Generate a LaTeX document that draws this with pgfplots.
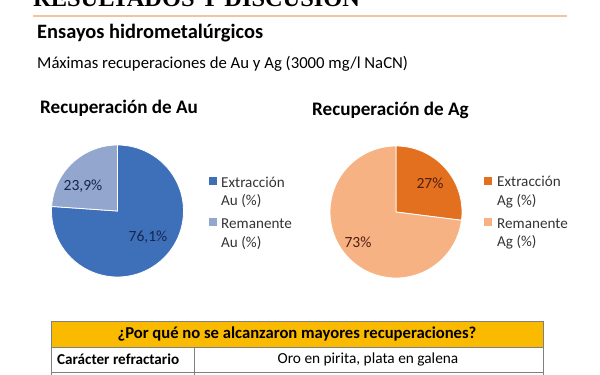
\documentclass[border=0pt]{standalone}
\usepackage{pgfplots}
\pgfplotsset{compat=1.18}
\usepackage{fontspec}
\setmainfont{Carlito}
\newfontfamily\titlefont{Liberation Serif}
\definecolor{auext}{RGB}{62,112,186}
\definecolor{aurem}{RGB}{146,166,206}
\definecolor{agext}{RGB}{226,112,30}
\definecolor{agrem}{RGB}{247,178,132}
\definecolor{hdr}{RGB}{250,186,0}
\definecolor{rule}{RGB}{244,196,160}
\definecolor{aulab}{RGB}{22,38,80}
\definecolor{aglab}{RGB}{80,30,15}
\begin{document}
\begin{tikzpicture}
\begin{axis}[
  scale only axis, width=600bp, height=375bp,
  xmin=0, xmax=600, ymin=0, ymax=375, y dir=reverse,
  hide axis, clip=true,
]
% top title (cut off)
\node[anchor=base west, inner sep=0, font=\titlefont\bfseries\fontsize{24.5}{24.5}\selectfont] at (axis cs:33,7) {RESULTADOS Y DISCUSION};
\draw[rule, line width=2bp] (axis cs:33,16) -- (axis cs:567,16);
\node[anchor=base west, inner sep=0, font=\bfseries\fontsize{20.5}{20.5}\selectfont] at (axis cs:37,38) {Ensayos hidrometalúrgicos};
\node[anchor=base west, inner sep=0, font=\fontsize{16.8}{16.8}\selectfont] at (axis cs:37,68) {Máximas recuperaciones de Au y Ag (3000 mg/l NaCN)};
% chart titles
\node[anchor=base west, inner sep=0, font=\bfseries\fontsize{19.2}{19.2}\selectfont] at (axis cs:40,113) {Recuperación de Au};
\node[anchor=base west, inner sep=0, font=\bfseries\fontsize{19.2}{19.2}\selectfont] at (axis cs:312,115) {Recuperación de Ag};
% Au pie: Extracción 76.1, Remanente 23.9 (clockwise from top)
\addplot[fill=auext, draw=white, line width=0.8bp, domain=0:76.1, samples=90]
  ({117.5+66*sin(3.6*x)}, {211-66*cos(3.6*x)}) -- (axis cs:117.5,211) -- cycle;
\addplot[fill=aurem, draw=white, line width=0.8bp, domain=76.1:100, samples=40]
  ({117.5+66*sin(3.6*x)}, {211-66*cos(3.6*x)}) -- (axis cs:117.5,211) -- cycle;
% Ag pie: Extracción 27, Remanente 73
\addplot[fill=agext, draw=white, line width=0.8bp, domain=0:27, samples=40]
  ({396+66*sin(3.6*x)}, {212-66*cos(3.6*x)}) -- (axis cs:396,212) -- cycle;
\addplot[fill=agrem, draw=white, line width=0.8bp, domain=27:100, samples=90]
  ({396+66*sin(3.6*x)}, {212-66*cos(3.6*x)}) -- (axis cs:396,212) -- cycle;
% pie labels
\node[text=aulab, font=\fontsize{15.6}{15.6}\selectfont] at (axis cs:148,237) {76,1\%};
\node[text=aulab, font=\fontsize{15.6}{15.6}\selectfont] at (axis cs:83,186) {23,9\%};
\node[text=aglab, font=\fontsize{15.6}{15.6}\selectfont] at (axis cs:430,183) {27\%};
\node[text=aglab, font=\fontsize{15.6}{15.6}\selectfont] at (axis cs:358,242) {73\%};
% legends
\fill[auext] (axis cs:208.5,176.5) rectangle (axis cs:217,185);
\fill[aurem] (axis cs:208.5,217.5) rectangle (axis cs:217,226);
\node[anchor=base west, inner sep=0, text=black!80, font=\fontsize{15.2}{15.2}\selectfont] at (axis cs:221,187) {Extracción};
\node[anchor=base west, inner sep=0, text=black!80, font=\fontsize{15.2}{15.2}\selectfont] at (axis cs:221,205) {Au (\%)};
\node[anchor=base west, inner sep=0, text=black!80, font=\fontsize{15.2}{15.2}\selectfont] at (axis cs:221,228) {Remanente};
\node[anchor=base west, inner sep=0, text=black!80, font=\fontsize{15.2}{15.2}\selectfont] at (axis cs:221,247) {Au (\%)};
\fill[agext] (axis cs:483.5,176.5) rectangle (axis cs:492,185);
\fill[agrem] (axis cs:483.5,217.5) rectangle (axis cs:492,226);
\node[anchor=base west, inner sep=0, text=black!80, font=\fontsize{15.2}{15.2}\selectfont] at (axis cs:497,186) {Extracción};
\node[anchor=base west, inner sep=0, text=black!80, font=\fontsize{15.2}{15.2}\selectfont] at (axis cs:497,205) {Ag (\%)};
\node[anchor=base west, inner sep=0, text=black!80, font=\fontsize{15.2}{15.2}\selectfont] at (axis cs:497,228) {Remanente};
\node[anchor=base west, inner sep=0, text=black!80, font=\fontsize{15.2}{15.2}\selectfont] at (axis cs:497,246) {Ag (\%)};
% table
\fill[hdr] (axis cs:51,321) rectangle (axis cs:543,347);
\draw[gray, line width=1bp] (axis cs:51,321) rectangle (axis cs:543,347);
\draw[gray, line width=1bp] (axis cs:51,347) -- (axis cs:51,380);
\draw[gray, line width=1bp] (axis cs:543,347) -- (axis cs:543,380);
\draw[gray, line width=1bp] (axis cs:194,347) -- (axis cs:194,380);
\draw[gray, line width=1bp] (axis cs:51,372) -- (axis cs:543,372);
\node[font=\bfseries\fontsize{16.7}{16.7}\selectfont] at (axis cs:297,334) {¿Por qué no se alcanzaron mayores recuperaciones?};
\node[anchor=west, inner sep=0, font=\bfseries\fontsize{15.2}{15.2}\selectfont] at (axis cs:57,359.5) {Carácter refractario};
\node[font=\fontsize{15.4}{15.4}\selectfont] at (axis cs:368,359.5) {Oro en pirita, plata en galena};
\end{axis}
\pgfresetboundingbox
\useasboundingbox (0,0) rectangle (600bp,375bp);
\end{tikzpicture}
\end{document}
